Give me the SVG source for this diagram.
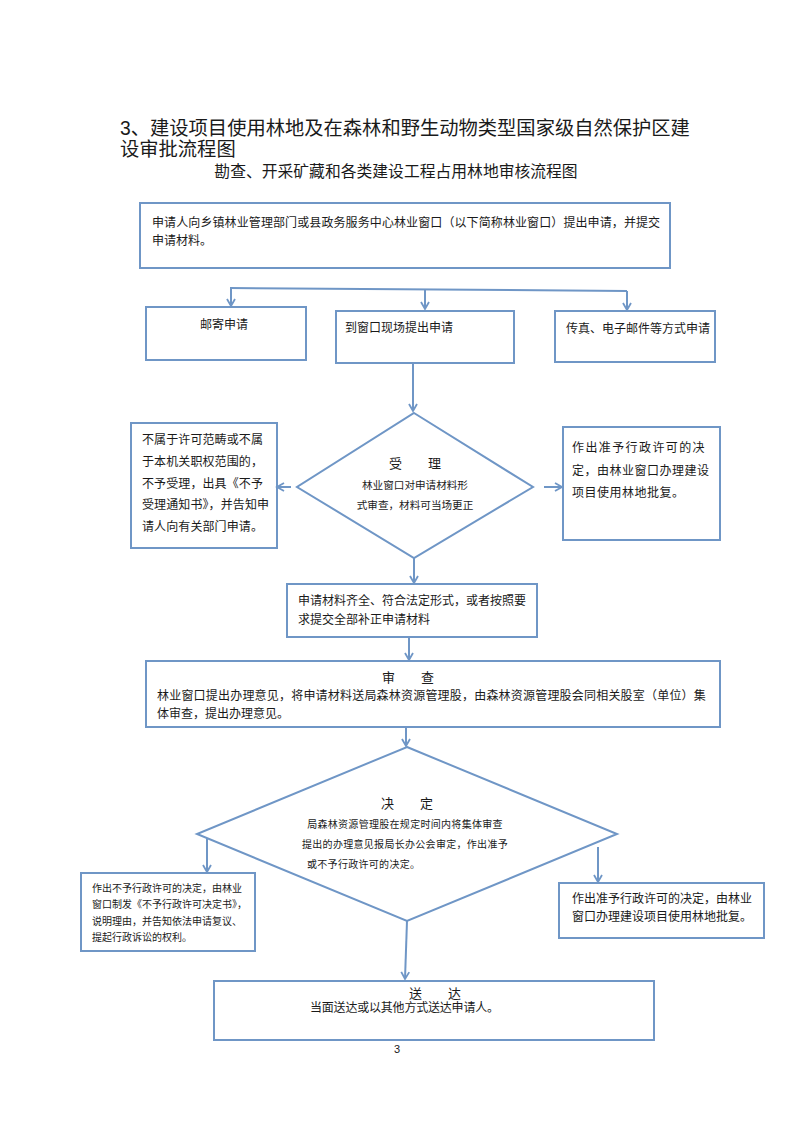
<svg xmlns="http://www.w3.org/2000/svg" width="793" height="1122" viewBox="0 0 793 1122">
<defs>
<style>
.box{fill:#ffffff;stroke:#6f96c6;stroke-width:2}
.ln{fill:none;stroke:#6f96c6;stroke-width:2}
.t{font-family:"Liberation Sans","Noto Sans CJK SC",sans-serif;fill:#1a1a1a}
.f12{font-size:12px}
.f10{font-size:10px}
.f13{font-size:13px}
</style>
<marker id="ah" markerUnits="userSpaceOnUse" markerWidth="12" markerHeight="12" refX="8" refY="5" orient="auto">
<path d="M1,1 L8,5 L1,9" fill="none" stroke="#6f96c6" stroke-width="1.8"/>
</marker>
</defs>
<rect width="793" height="1122" fill="#ffffff"/>
<g id="title">
<text class="t" x="120" y="135" font-size="19.3">3、建设项目使用林地及在森林和野生动物类型国家级自然保护区建</text>
<text class="t" x="120" y="156" font-size="19.3">设审批流程图</text>
<text class="t" x="396" y="177" font-size="15.8" text-anchor="middle">勘查、开采矿藏和各类建设工程占用林地审核流程图</text>
</g>
<g id="n1">
<rect class="box" x="140" y="203" width="530" height="65"/>
<text class="t f12" x="152" y="227" letter-spacing="0.1">申请人向乡镇林业管理部门或县政务服务中心林业窗口（以下简称林业窗口）提出申请，并提交</text>
<text class="t f12" x="152" y="245">申请材料。</text>
</g>
<g id="n2">
<rect class="box" x="146" y="307" width="160" height="53"/>
<text class="t f12" x="200" y="329">邮寄申请</text>
</g>
<g id="n3">
<rect class="box" x="336" y="311" width="178" height="52"/>
<text class="t f12" x="345" y="332">到窗口现场提出申请</text>
</g>
<g id="n4">
<rect class="box" x="555" y="311" width="160" height="51"/>
<text class="t f12" x="566" y="333">传真、电子邮件等方式申请</text>
</g>
<g id="n5">
<polygon class="box" points="414,413 533,487 414,558 297,487"/>
<text class="t f13" x="415" y="468" text-anchor="middle">受　　理</text>
<text class="t" x="415" y="489" font-size="10.6" text-anchor="middle">林业窗口对申请材料形</text>
<text class="t" x="415" y="509" font-size="10.6" text-anchor="middle">式审查，材料可当场更正</text>
</g>
<g id="n6">
<rect class="box" x="131" y="423" width="146" height="125"/>
<text class="t f12" x="142" y="444" letter-spacing="0.1">不属于许可范畴或不属</text>
<text class="t f12" x="142" y="466" letter-spacing="0.1">于本机关职权范围的，</text>
<text class="t f12" x="142" y="488" letter-spacing="0.1">不予受理，出具《不予</text>
<text class="t f12" x="142" y="509" letter-spacing="0.1">受理通知书》，并告知申</text>
<text class="t f12" x="142" y="531" letter-spacing="0.1">请人向有关部门申请。</text>
</g>
<g id="n7">
<rect class="box" x="563" y="427" width="157" height="113"/>
<text class="t f12" x="572" y="452" letter-spacing="1.4">作出准予行政许可的决</text>
<text class="t f12" x="572" y="475" letter-spacing="0.5">定，由林业窗口办理建设</text>
<text class="t f12" x="572" y="497" letter-spacing="0.5">项目使用林地批复。</text>
</g>
<g id="n8">
<rect class="box" x="287" y="584" width="250" height="53"/>
<text class="t f12" x="298" y="605">申请材料齐全、符合法定形式，或者按照要</text>
<text class="t f12" x="298" y="624">求提交全部补正申请材料</text>
</g>
<g id="n9">
<rect class="box" x="146" y="661" width="574" height="66"/>
<text class="t f13" x="408" y="682" text-anchor="middle">审　　查</text>
<text class="t f12" x="157" y="700" letter-spacing="0.2">林业窗口提出办理意见，将申请材料送局森林资源管理股，由森林资源管理股会同相关股室（单位）集</text>
<text class="t f12" x="157" y="718">体审查，提出办理意见。</text>
</g>
<g id="n10">
<polygon class="box" points="407,747 617,834 407,921 197,834"/>
<text class="t f13" x="407" y="808" text-anchor="middle">决　　定</text>
<text class="t f10" x="405" y="828" text-anchor="middle" letter-spacing="0.3">局森林资源管理股在规定时间内将集体审查</text>
<text class="t f10" x="405" y="848" text-anchor="middle" letter-spacing="0.3">提出的办理意见报局长办公会审定，作出准予</text>
<text class="t f10" x="307" y="868" letter-spacing="0.3">或不予行政许可的决定。</text>
</g>
<g id="n11">
<rect class="box" x="81" y="873" width="174" height="78"/>
<text class="t f10" x="92" y="892">作出不予行政许可的决定，由林业</text>
<text class="t f10" x="92" y="908">窗口制发《不予行政许可决定书》，</text>
<text class="t f10" x="92" y="925">说明理由，并告知依法申请复议、</text>
<text class="t f10" x="92" y="941">提起行政诉讼的权利。</text>
</g>
<g id="n12">
<rect class="box" x="559" y="883" width="205" height="55"/>
<text class="t f12" x="572" y="903">作出准予行政许可的决定，由林业</text>
<text class="t f12" x="572" y="921">窗口办理建设项目使用林地批复。</text>
</g>
<g id="n13">
<rect class="box" x="214" y="981" width="440" height="59"/>
<text class="t f13" x="435" y="998" text-anchor="middle">送　　达</text>
<text class="t f12" x="310" y="1012" letter-spacing="-0.2">当面送达或以其他方式送达申请人。</text>
</g>
<g id="page">
<text class="t" x="397" y="1053" font-size="11" text-anchor="middle">3</text>
</g>
<g id="connectors">
<path class="ln" d="M230,288 L627,291"/>
<path class="ln" d="M231,288 L231,306" marker-end="url(#ah)"/>
<path class="ln" d="M425,289 L425,309" marker-end="url(#ah)"/>
<path class="ln" d="M627,291 L627,310" marker-end="url(#ah)"/>
<path class="ln" d="M413,363 L413,411" marker-end="url(#ah)"/>
<path class="ln" d="M291,487 L277,487" marker-end="url(#ah)"/>
<path class="ln" d="M544,487 L562,487" marker-end="url(#ah)"/>
<path class="ln" d="M414,558 L414,583" marker-end="url(#ah)"/>
<path class="ln" d="M409,637 L409,660" marker-end="url(#ah)"/>
<path class="ln" d="M406,727 L406,746" marker-end="url(#ah)"/>
<path class="ln" d="M207,838 L207,872" marker-end="url(#ah)"/>
<path class="ln" d="M598,847 L598,882" marker-end="url(#ah)"/>
<path class="ln" d="M407,921 L405,979" marker-end="url(#ah)"/>
</g>
</svg>
